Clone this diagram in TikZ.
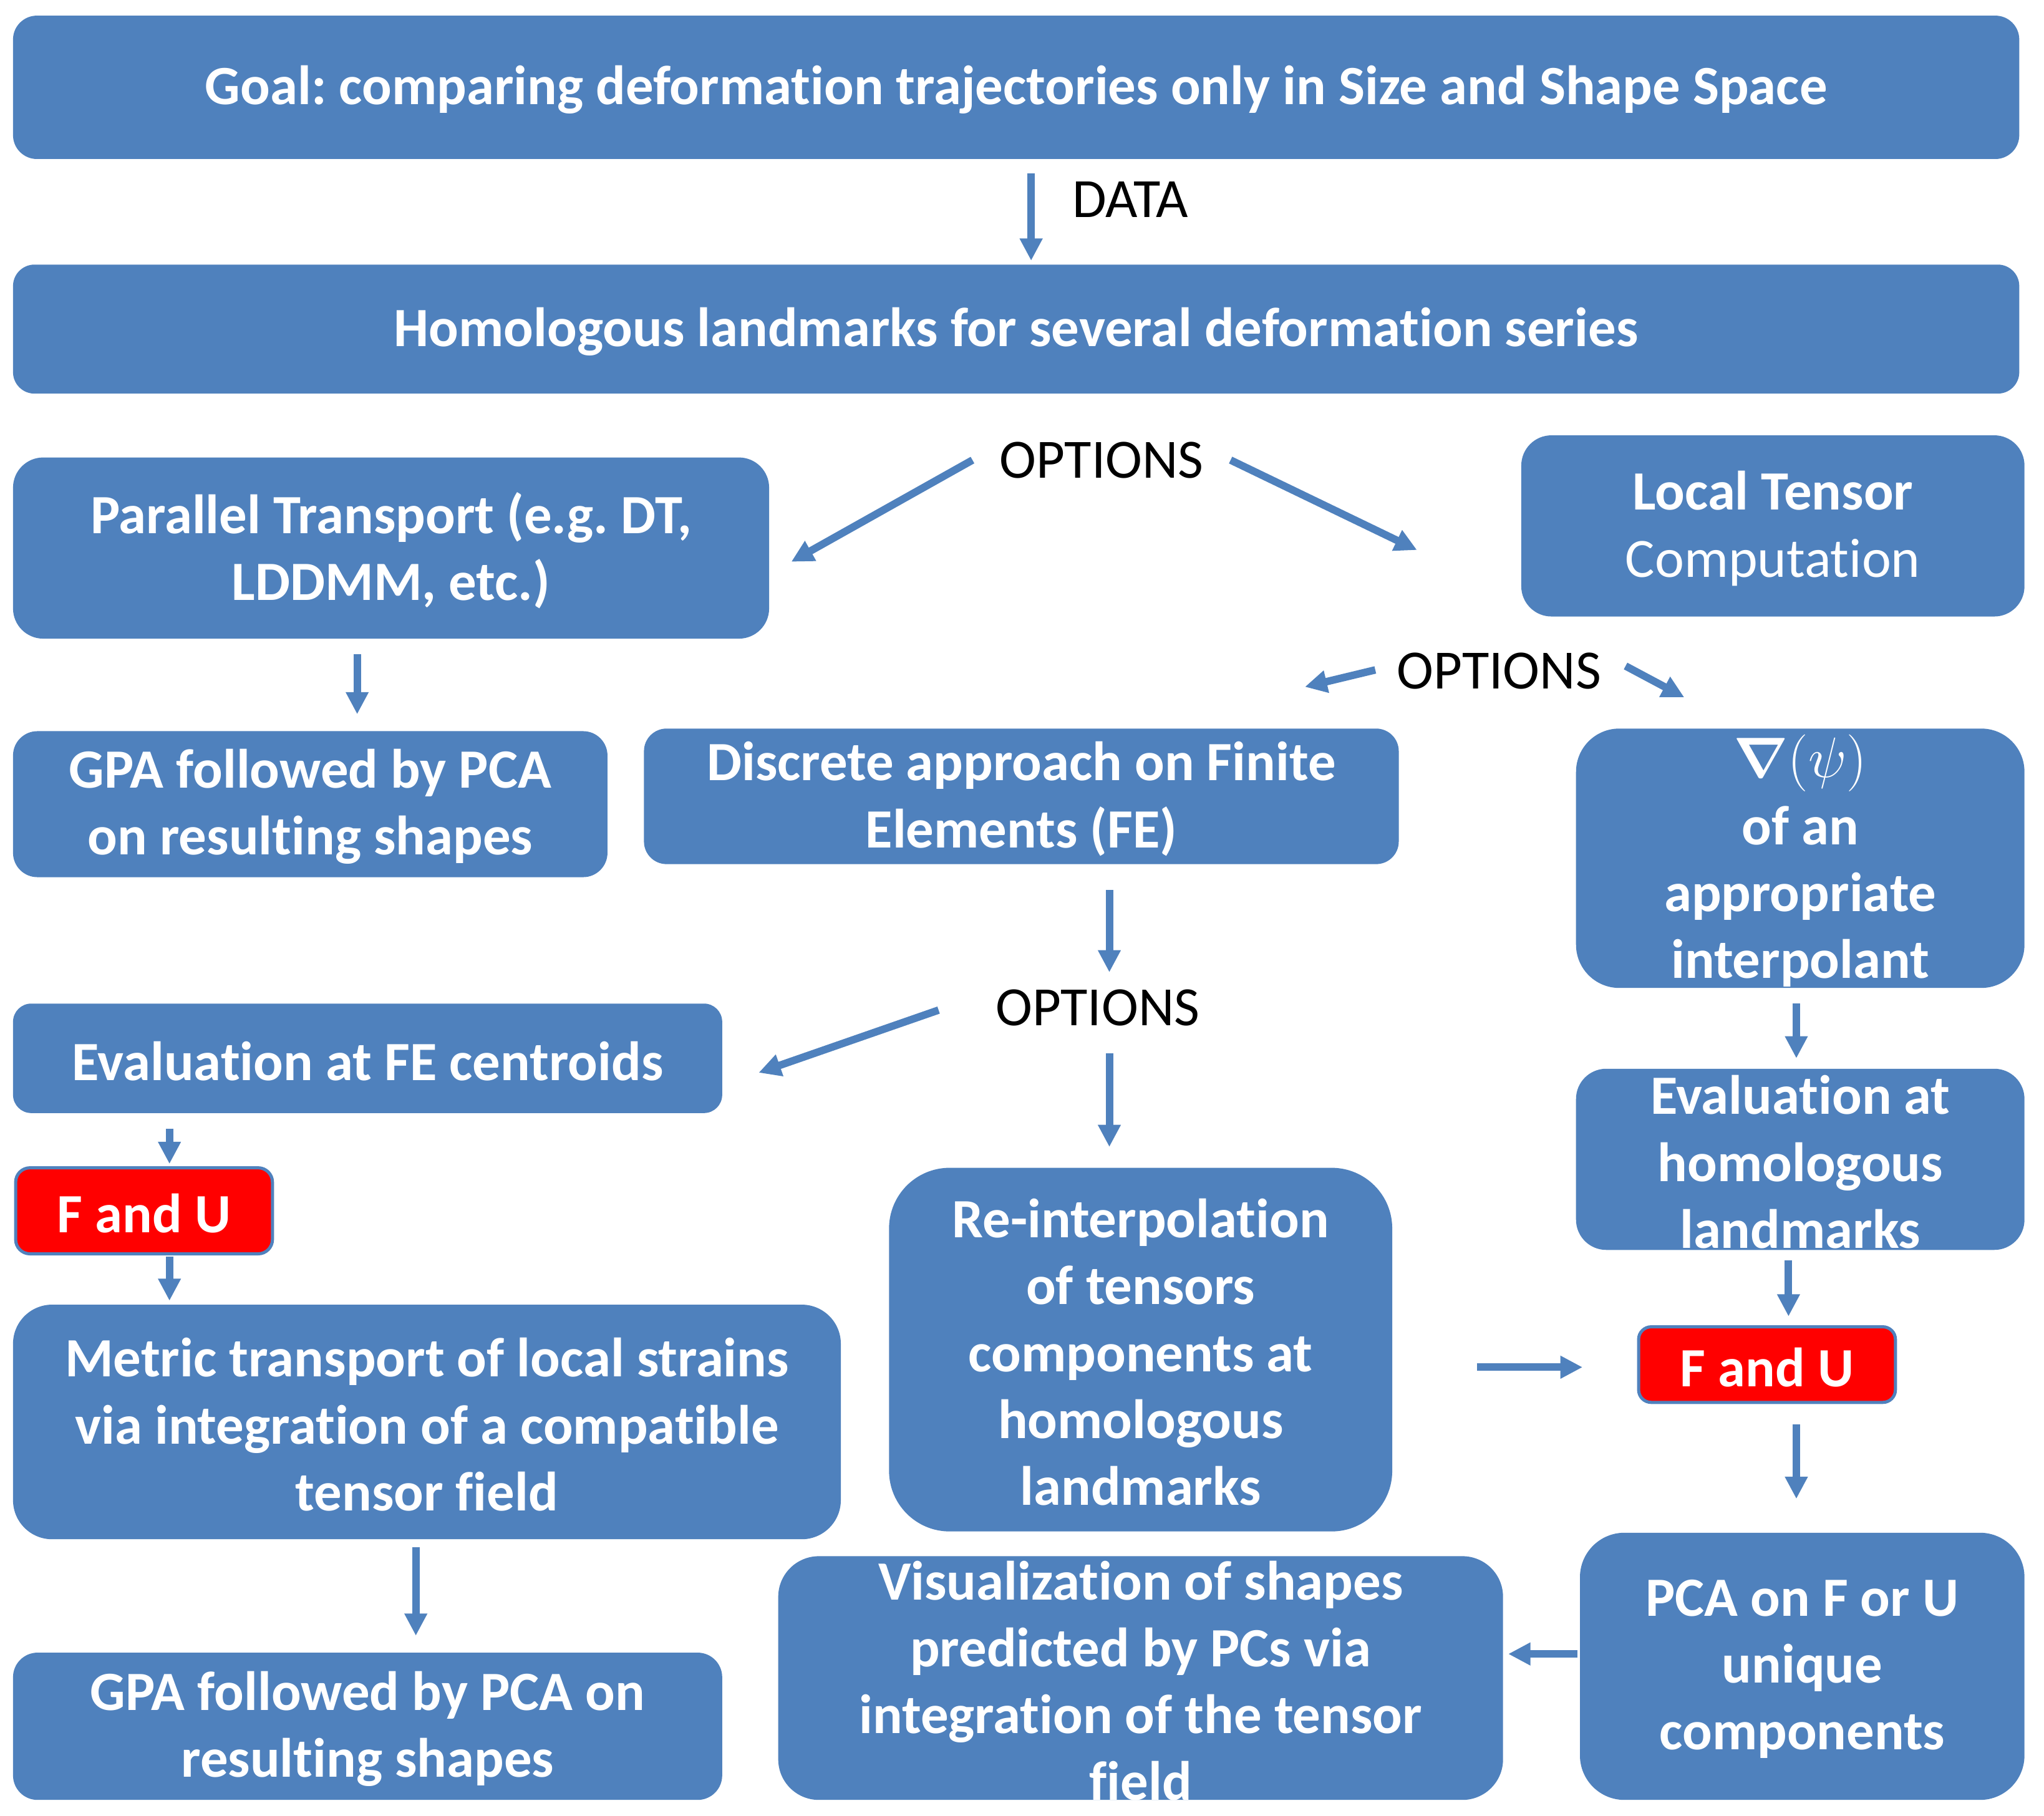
\documentclass[tikz,border=0pt]{standalone}
\usepackage{fontspec}
\setmainfont{Carlito}[Ligatures={NoCommon}]
\usetikzlibrary{arrows.meta}
\frenchspacing
\definecolor{boxblue}{HTML}{4F81BD}
\definecolor{fured}{HTML}{FF0000}
\newcommand\mkbox[7][]{%
  \pgfmathsetmacro\bw{(#5-#3)*0.02}%
  \pgfmathsetmacro\bh{(#6-#4)*0.02}%
  \pgfmathsetmacro\br{min(\bw,\bh)/6}%
  \node[box,minimum width=\bw cm,minimum height=\bh cm,rounded corners=\br cm,#1] (#2) at ({(#3+#5)/2},{(#4+#6)/2}) {};%
  \node[lbl] (#2-t) at ([yshift=-0.04cm]#2.center) {#7};%
}
\begin{document}
\begin{tikzpicture}[x=0.02cm,y=-0.02cm,
  box/.style={fill=boxblue,draw=none,inner sep=0pt,outer sep=0pt},
  fubox/.style={fill=fured,draw=boxblue,line width=0.048cm},
  lbl/.style={text=white,font=\fontsize{24.2}{29.2}\selectfont\bfseries\frenchspacing,align=center,inner sep=0pt},
  plain/.style={text=black,font=\fontsize{24.2}{29.2}\selectfont,inner sep=0pt},
  arr/.style={draw=boxblue,line width=0.115cm,-{Triangle[width=0.33cm,length=0.34cm]}}]
\fill[white] (0,0) rectangle (1568,1393);
\useasboundingbox (0,0) rectangle (1568,1393);

% boxes
\mkbox{goal}{10}{12}{1549}{122}{Goal: comparing deformation trajectories only in Size and Shape Space}
\mkbox{hom}{10}{203}{1549}{302}{Homologous landmarks for several deformation series}
\mkbox{par}{10}{351}{590}{490}{Parallel Transport (e.g. DT,\\LDDMM, etc.)}
\mkbox{loc}{1167}{334}{1553}{473}{Local Tensor\\{\mdseries Computation}}
\mkbox{gpaone}{10}{561}{466}{673}{GPA followed by PCA\\on resulting shapes}
\mkbox{disc}{494}{559}{1073}{663}{Discrete approach on Finite\\Elements (FE)}
\mkbox{nab}{1209}{559}{1553}{758}{{\boldmath$\nabla$}$(\psi)$\\of an\\appropriate\\interpolant}
\mkbox{evfe}{10}{770}{554}{854}{Evaluation at FE centroids}
\mkbox{evh}{1209}{820}{1553}{959}{Evaluation at\\homologous\\landmarks}
\mkbox[fubox]{fuone}{12}{896}{209}{962}{F and U}
\mkbox{reint}{682}{896}{1068}{1175}{Re-interpolation\\of tensors\\components at\\homologous\\landmarks}
\mkbox[fubox]{futwo}{1257}{1018}{1454}{1076}{F and U}
\mkbox{met}{10}{1001}{645}{1181}{Metric transport of local strains\\via integration of a compatible\\tensor field}
\mkbox{gpatwo}{10}{1268}{554}{1381}{GPA followed by PCA on\\resulting shapes}
\mkbox{vis}{597}{1194}{1153}{1381}{Visualization of shapes\\predicted by PCs via\\integration of the tensor\\field}
\mkbox{pca}{1212}{1176}{1553}{1381}{PCA on F or U\\unique\\components}

% plain labels
\node[plain] (data) at (867,153) {DATA};
\node[plain] (optone) at (845,353) {OPTIONS};
\node[plain] (opttwo) at (1150,515) {OPTIONS};
\node[plain] (optthree) at (842,773) {OPTIONS};

% helper coordinates
\coordinate (cA) at (791,0);
\coordinate (cB) at (274,0);
\coordinate (cC) at (851,0);
\coordinate (cD) at (1378,0);
\coordinate (cE) at (130,0);
\coordinate (cF) at (1372,0);
\coordinate (cG) at (319,0);
\coordinate (rA) at (0,1049);
\coordinate (rB) at (0,1269);
\coordinate (o1a) at (746,353);
\coordinate (o1b) at (607,431);
\coordinate (o1c) at (944,353);
\coordinate (o1d) at (1087,422);
\coordinate (o2a) at (1055,514);
\coordinate (o2b) at (1001,527);
\coordinate (o2c) at (1247,511);
\coordinate (o2d) at (1292,535);
\coordinate (o3a) at (720,775);
\coordinate (o3b) at (582,823);
\coordinate (d1) at (851,746);
\coordinate (d2) at (851,808);

% connectors
\draw[arr,shorten <=0.22cm,shorten >=0.06cm] (goal.south -| cA) -- (hom.north -| cA);
\draw[arr] (o1a) -- (o1b);
\draw[arr] (o1c) -- (o1d);
\draw[arr,shorten <=0.24cm,shorten >=0.26cm] (par.south -| cB) -- (gpaone.north -| cB);
\draw[arr] (o2a) -- (o2b);
\draw[arr] (o2c) -- (o2d);
\draw[arr,shorten <=0.40cm] (disc.south -| cC) -- (d1);
\draw[arr] (o3a) -- (o3b);
\draw[arr,shorten >=0.32cm] (d2) -- (reint.north -| cC);
\draw[arr,shorten <=0.24cm,shorten >=0.16cm] (nab.south -| cD) -- (evh.north -| cD);
\draw[arr,shorten <=0.24cm,shorten >=0.06cm] (evfe.south -| cE) -- (fuone.north -| cE);
\draw[arr,shorten <=0.04cm,shorten >=0.06cm] (fuone.south -| cE) -- (met.north -| cE);
\draw[arr,shorten <=1.30cm,shorten >=0.86cm] (reint.east |- rA) -- (futwo.west |- rA);
\draw[arr,shorten <=0.16cm,shorten >=0.16cm] (evh.south -| cF) -- (futwo.north -| cF);
\draw[arr,shorten <=0.34cm,shorten >=0.52cm] (futwo.south -| cD) -- (pca.north -| cD);
\draw[arr,shorten <=0.12cm,shorten >=0.26cm] (met.south -| cG) -- (gpatwo.north -| cG);
\draw[arr,shorten <=0.04cm,shorten >=0.08cm] (pca.west |- rB) -- (vis.east |- rB);
\end{tikzpicture}
\end{document}
